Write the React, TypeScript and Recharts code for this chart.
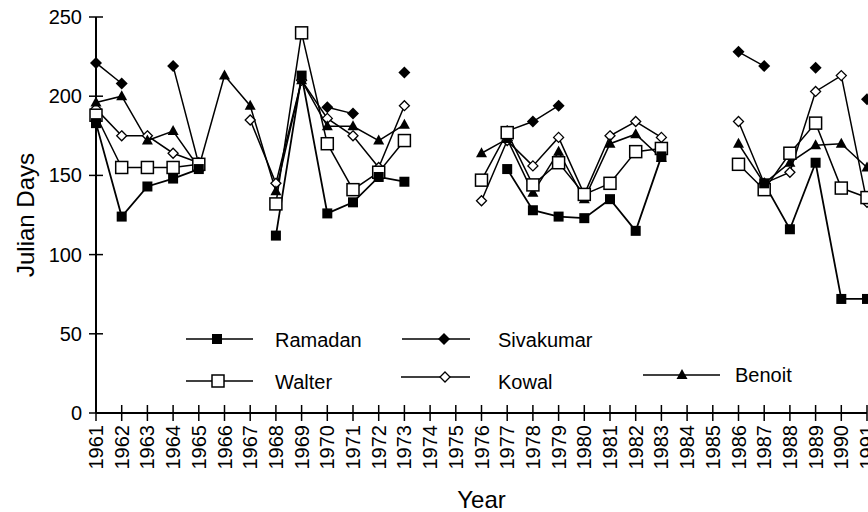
import React from "react";
import { LineChart, Line, XAxis, YAxis, Label } from "recharts";

// años del eje X (1961–1991)
const years = [
  1961, 1962, 1963, 1964, 1965, 1966, 1967, 1968, 1969, 1970, 1971, 1972, 1973,
  1974, 1975, 1976, 1977, 1978, 1979, 1980, 1981, 1982, 1983, 1984, 1985, 1986,
  1987, 1988, 1989, 1990, 1991,
];

const yTicks = [0, 50, 100, 150, 200, 250];

// valores, null = sin dato
const ramadan = [
  183, 124, 143, 148, 154, null, null, 112, 213, 126, 133, 149, 146, null, null,
  null, 154, 128, 124, 123, 135, 115, 162, null, null, null, 145, 116, 158, 72, 72,
];
const walter = [
  188, 155, 155, 155, 157, null, null, 132, 240, 170, 141, 152, 172, null, null,
  147, 177, 144, 158, 138, 145, 165, 167, null, null, 157, 141, 164, 183, 142, 136,
];
const sivakumar = [
  221, 208, null, 219, 157, null, null, null, null, 193, 189, null, 215, null,
  null, null, 178, 184, 194, null, null, null, null, null, null, 228, 219, null,
  218, null, 198,
];
const kowal = [
  192, 175, 175, 164, 158, null, 185, 145, 210, 186, 175, 155, 194, null, null,
  134, 172, 156, 174, 138, 175, 184, 174, null, null, 184, 145, 152, 203, 213, 133,
];
const benoit = [
  196, 200, 172, 178, 155, 213, 194, 140, 210, 181, 181, 172, 182, null, null,
  164, 173, 139, 165, 135, 170, 176, 161, null, null, 170, 145, 158, 169, 170, 155,
];

const data = years.map((year, i) => ({
  year,
  ramadan: ramadan[i],
  walter: walter[i],
  sivakumar: sivakumar[i],
  kowal: kowal[i],
  benoit: benoit[i],
}));

// marcadores
const filledSquare = (x: number, y: number) => (
  <rect x={x - 5} y={y - 5} width={10} height={10} fill="#000" />
);
const openSquare = (x: number, y: number) => (
  <rect x={x - 6} y={y - 6} width={12} height={12} fill="#fff" stroke="#000" strokeWidth={1.5} />
);
const filledDiamond = (x: number, y: number) => (
  <polygon points={`${x},${y - 6} ${x + 6},${y} ${x},${y + 6} ${x - 6},${y}`} fill="#000" />
);
const openDiamond = (x: number, y: number) => (
  <polygon
    points={`${x},${y - 5} ${x + 5},${y} ${x},${y + 5} ${x - 5},${y}`}
    fill="#fff"
    stroke="#000"
    strokeWidth={1.3}
  />
);
const filledTriangle = (x: number, y: number) => (
  <polygon points={`${x},${y - 6} ${x + 5.5},${y + 4} ${x - 5.5},${y + 4}`} fill="#000" />
);

const makeDot = (shape: (x: number, y: number) => React.ReactElement) => (p: any) => {
  if (p.cx == null || p.cy == null || p.value == null) return <g key={p.index} />;
  return <g key={p.index}>{shape(p.cx, p.cy)}</g>;
};

const XTick = ({ x, y, payload }: any) => (
  <g>
    <line x1={x} x2={x} y1={y - 8} y2={y + 8} stroke="#000" strokeWidth={1.5} />
    <text
      x={x}
      y={y + 12}
      transform={`rotate(-90 ${x} ${y + 12})`}
      textAnchor="end"
      dominantBaseline="central"
      fontSize={20}
      fill="#000"
    >
      {payload.value}
    </text>
  </g>
);

const YTick = ({ x, y, payload }: any) => (
  <g>
    <line x1={x - 7} x2={x + 7} y1={y} y2={y} stroke="#000" strokeWidth={1.5} />
    <text x={x - 14} y={y} textAnchor="end" dominantBaseline="central" fontSize={20} fill="#000">
      {payload.value}
    </text>
  </g>
);

const legendItems = [
  { name: "Ramadan", x1: 186, x2: 253, ly: 339, mx: 217, tx: 275, ty: 340, shape: filledSquare },
  { name: "Walter", x1: 186, x2: 253, ly: 381, mx: 218, tx: 275, ty: 382, shape: openSquare },
  { name: "Sivakumar", x1: 402, x2: 470, ly: 339, mx: 444, tx: 498, ty: 340, shape: filledDiamond },
  { name: "Kowal", x1: 401, x2: 470, ly: 377, mx: 445, tx: 498, ty: 382, shape: openDiamond },
  { name: "Benoit", x1: 643, x2: 720, ly: 375, mx: 682, tx: 735, ty: 375, shape: filledTriangle },
];

export default function App() {
  return (
    <div
      style={{
        position: "absolute",
        left: 0,
        top: 0,
        width: 868,
        height: 512,
        background: "#fff",
        fontFamily: "'Liberation Sans', Arial, sans-serif",
      }}
    >
      <LineChart width={868} height={512} data={data} margin={{ top: 17, right: 1, bottom: 0, left: 0 }}>
        <XAxis
          dataKey="year"
          type="number"
          domain={[1961, 1991]}
          ticks={years}
          interval={0}
          height={99}
          tickSize={0}
          tickMargin={0}
          tick={<XTick />}
          axisLine={{ stroke: "#000", strokeWidth: 2 }}
        >
          <Label value="Year" position="insideBottom" offset={4} style={{ fontSize: 24, fill: "#000" }} />
        </XAxis>
        <YAxis
          domain={[0, 250]}
          ticks={yTicks}
          interval={0}
          width={96}
          tickSize={0}
          tickMargin={0}
          tick={<YTick />}
          axisLine={{ stroke: "#000", strokeWidth: 2 }}
        >
          <Label
            value="Julian Days"
            angle={-90}
            position="insideLeft"
            offset={25}
            style={{ fontSize: 24, fill: "#000", textAnchor: "middle" }}
          />
        </YAxis>
        <Line dataKey="sivakumar" stroke="#000" strokeWidth={1.5} dot={makeDot(filledDiamond)} isAnimationActive={false} />
        <Line dataKey="kowal" stroke="#000" strokeWidth={1.5} dot={makeDot(openDiamond)} isAnimationActive={false} />
        <Line dataKey="benoit" stroke="#000" strokeWidth={1.5} dot={makeDot(filledTriangle)} isAnimationActive={false} />
        <Line dataKey="walter" stroke="#000" strokeWidth={1.5} dot={makeDot(openSquare)} isAnimationActive={false} />
        <Line dataKey="ramadan" stroke="#000" strokeWidth={1.8} dot={makeDot(filledSquare)} isAnimationActive={false} />
      </LineChart>
      <svg width={868} height={512} style={{ position: "absolute", left: 0, top: 0, pointerEvents: "none" }}>
        {legendItems.map((it) => (
          <g key={it.name}>
            <line x1={it.x1} x2={it.x2} y1={it.ly} y2={it.ly} stroke="#000" strokeWidth={1.5} />
            {it.shape(it.mx, it.ly)}
            <text x={it.tx} y={it.ty} dominantBaseline="central" fontSize={20} fill="#000">
              {it.name}
            </text>
          </g>
        ))}
      </svg>
    </div>
  );
}
